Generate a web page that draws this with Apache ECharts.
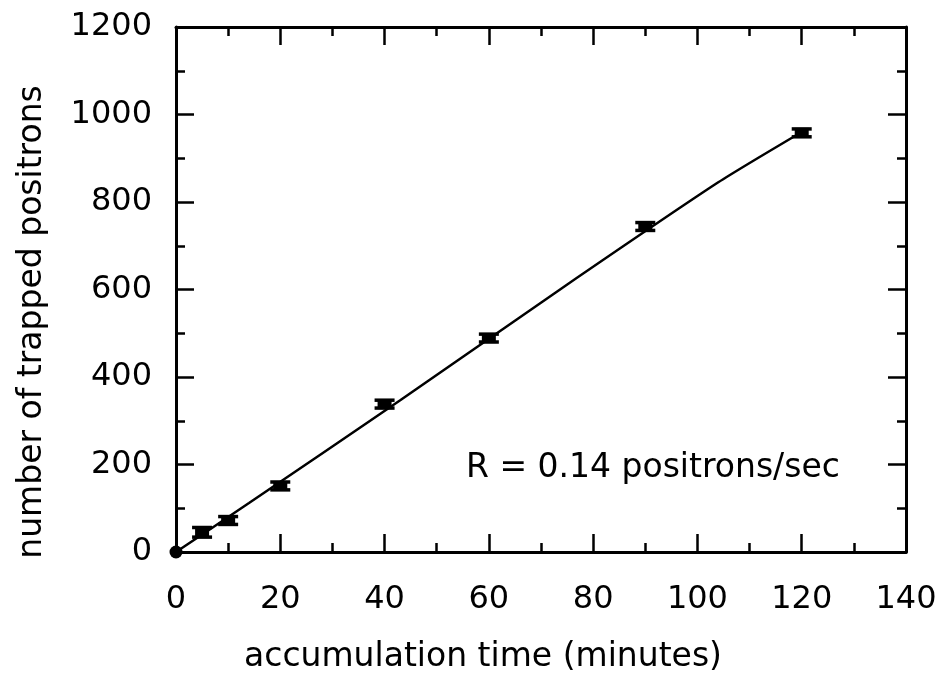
<!DOCTYPE html>
<html>
<head>
<meta charset="utf-8">
<script src="https://cdn.jsdelivr.net/npm/echarts@6/dist/echarts.min.js"></script>
<style>
html,body{margin:0;padding:0;background:#fff;}
#main{width:949px;height:685px;}
</style>
</head>
<body>
<div id="main"></div>
<script>
// measured points (minutes, trapped positrons, error)
var timeMin = [5, 10, 20, 40, 60, 90, 120];
var positrons = [45, 72, 151, 338, 489, 744, 958];
var errors = [11, 9, 9, 9, 9, 9, 9];
// origin point
var originX = [0];
var originY = [0];
// fitted line
var fitX = [0, 14, 43, 74, 104, 120];
var fitY = [0, 112, 347, 603, 845, 960];
var xTicks = [0, 20, 40, 60, 80, 100, 120, 140];
var yTicks = [0, 200, 400, 600, 800, 1000, 1200];
var xTitle = 'accumulation time (minutes)';
var yTitle = 'number of trapped positrons';
var annotation = 'R = 0.14 positrons/sec';

var FONT = 'DejaVu Sans';
var chart = echarts.init(document.getElementById('main'), null, {renderer: 'canvas'});

var errData = timeMin.map(function (t, i) { return [t, positrons[i], errors[i]]; });
var fitData = fitX.map(function (t, i) { return [t, fitY[i]]; });
var originData = originX.map(function (t, i) { return [t, originY[i]]; });

var axisCommon = {
  type: 'value',
  axisLine: {show: true, onZero: false, lineStyle: {color: '#000', width: 3}},
  axisTick: {show: true, inside: true, length: 18, lineStyle: {color: '#000', width: 2.5}},
  minorTick: {show: true, splitNumber: 2, length: 9, lineStyle: {color: '#000', width: 2.5}},
  splitLine: {show: false},
  minorSplitLine: {show: false}
};

function mk(extra) { return Object.assign({}, JSON.parse(JSON.stringify(axisCommon)), extra); }
function plain(v) { return String(v); }

var option = {
  backgroundColor: '#fff',
  animation: false,
  grid: {left: 176, right: 43, top: 27, bottom: 133, containLabel: false},
  xAxis: [
    mk({position: 'bottom', min: xTicks[0], max: xTicks[xTicks.length - 1], interval: 20,
      axisLabel: {show: true, margin: 32, color: '#000', fontFamily: FONT, fontSize: 32, formatter: plain}}),
    mk({position: 'top', min: xTicks[0], max: xTicks[xTicks.length - 1], interval: 20,
      axisLabel: {show: false}})
  ],
  yAxis: [
    mk({position: 'left', min: yTicks[0], max: yTicks[yTicks.length - 1], interval: 200,
      axisLabel: {show: true, margin: 24, color: '#000', fontFamily: FONT, fontSize: 32, formatter: plain}}),
    mk({position: 'right', min: yTicks[0], max: yTicks[yTicks.length - 1], interval: 200,
      axisLabel: {show: false}})
  ],
  graphic: [
    {type: 'text', x: 466, y: 468, style: {text: annotation, fill: '#000', font: '33px "' + FONT + '"', textAlign: 'left', textVerticalAlign: 'middle'}},
    {type: 'text', x: 483, y: 657, style: {text: xTitle, fill: '#000', font: '33px "' + FONT + '"', textAlign: 'center', textVerticalAlign: 'middle'}},
    {type: 'text', x: 32, y: 322, rotation: Math.PI / 2, style: {text: yTitle, fill: '#000', font: '33px "' + FONT + '"', textAlign: 'center', textVerticalAlign: 'middle'}}
  ],
  series: [
    {
      type: 'line', data: fitData, xAxisIndex: 0, yAxisIndex: 0,
      showSymbol: false, symbol: 'none', smooth: 0.2,
      lineStyle: {color: '#000', width: 2.5}, z: 5
    },
    {
      type: 'custom', data: errData, xAxisIndex: 0, yAxisIndex: 0, z: 6,
      renderItem: function (params, api) {
        var x = api.value(0), y = api.value(1), e = api.value(2);
        var c = api.coord([x, y]);
        var hi = api.coord([x, y + e]);
        var lo = api.coord([x, y - e]);
        var hw = 10;
        var st = {stroke: '#000', lineWidth: 3.5};
        return {
          type: 'group',
          children: [
            {type: 'line', shape: {x1: c[0], y1: hi[1], x2: c[0], y2: lo[1]}, style: st},
            {type: 'line', shape: {x1: c[0] - hw, y1: hi[1], x2: c[0] + hw, y2: hi[1]}, style: st},
            {type: 'line', shape: {x1: c[0] - hw, y1: lo[1], x2: c[0] + hw, y2: lo[1]}, style: st},
            {type: 'rect', shape: {x: c[0] - 7, y: c[1] - 5, width: 14, height: 10}, style: {fill: '#000'}}
          ]
        };
      }
    },
    {
      type: 'scatter', data: originData, xAxisIndex: 0, yAxisIndex: 0,
      symbol: 'circle', symbolSize: 13, itemStyle: {color: '#000', opacity: 1}, z: 10
    }
  ]
};
chart.setOption(option);
</script>
</body>
</html>
